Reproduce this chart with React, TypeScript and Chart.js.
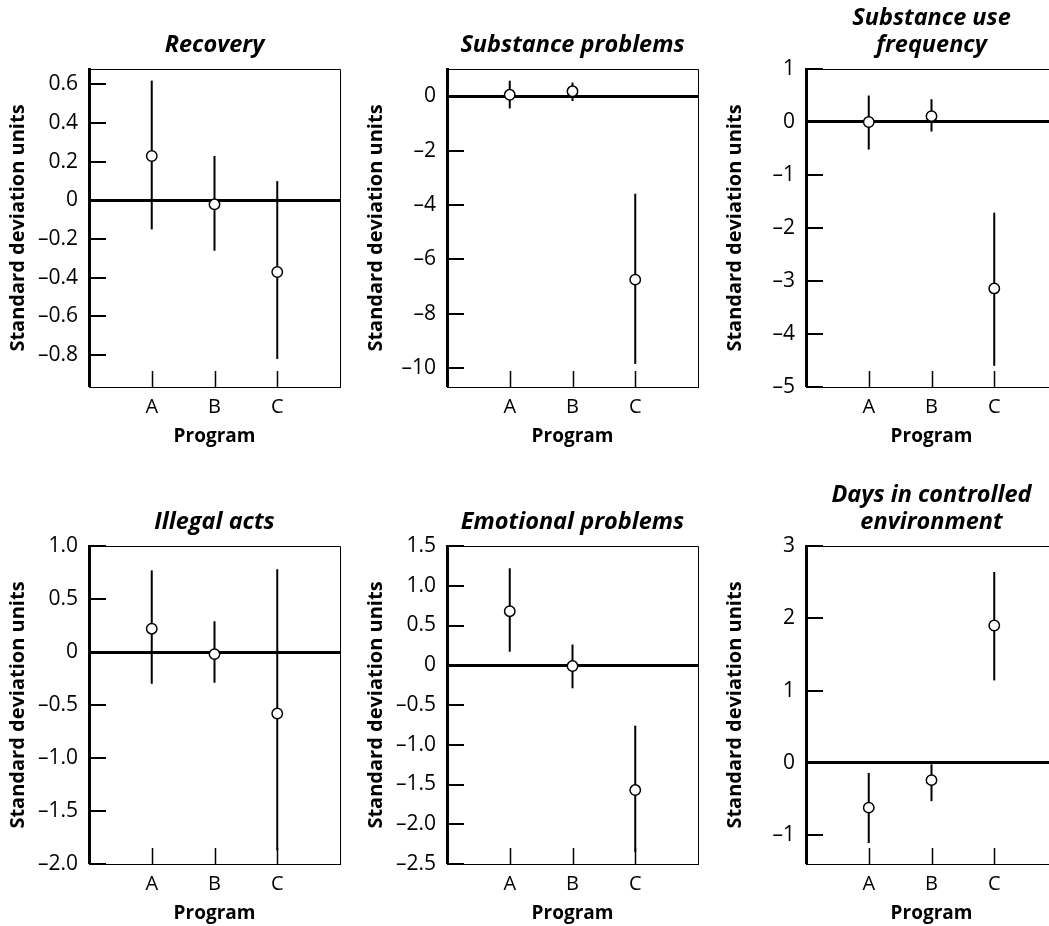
import React, { useEffect, useRef } from 'react';
import { Chart, registerables } from 'chart.js';

Chart.register(...registerables);

const categories = ['A', 'B', 'C'];

const recoveryMean = [0.23, -0.02, -0.37];
const recoveryLow = [-0.15, -0.26, -0.82];
const recoveryHigh = [0.62, 0.23, 0.1];
const recoveryTicks = [-0.8, -0.6, -0.4, -0.2, 0, 0.2, 0.4, 0.6];

const substanceMean = [0.05, 0.18, -6.75];
const substanceLow = [-0.45, -0.18, -9.85];
const substanceHigh = [0.57, 0.5, -3.59];
const substanceTicks = [-10, -8, -6, -4, -2, 0];

const frequencyMean = [0.0, 0.11, -3.14];
const frequencyLow = [-0.52, -0.18, -4.6];
const frequencyHigh = [0.5, 0.43, -1.71];
const frequencyTicks = [-5, -4, -3, -2, -1, 0, 1];

const illegalMean = [0.22, -0.02, -0.58];
const illegalLow = [-0.3, -0.29, -1.87];
const illegalHigh = [0.77, 0.29, 0.78];
const illegalTicks = [-2, -1.5, -1, -0.5, 0, 0.5, 1];

const emotionalMean = [0.68, -0.01, -1.57];
const emotionalLow = [0.17, -0.29, -2.35];
const emotionalHigh = [1.22, 0.26, -0.76];
const emotionalTicks = [-2.5, -2, -1.5, -1, -0.5, 0, 0.5, 1, 1.5];

const daysMean = [-0.62, -0.24, 1.9];
const daysLow = [-1.11, -0.53, 1.14];
const daysHigh = [-0.14, -0.02, 2.64];
const daysTicks = [-1, 0, 1, 2, 3];

const FONT = '"Open Sans", "DejaVu Sans", sans-serif';

type Panel = {
  title: string[];
  mean: number[];
  low: number[];
  high: number[];
  ticks: number[];
  decimals: number;
  min: number;
  max: number;
  left: number;
  top: number;
};

const panels: Panel[] = [
  { title: ['Recovery'], mean: recoveryMean, low: recoveryLow, high: recoveryHigh, ticks: recoveryTicks, decimals: 1, min: -0.965, max: 0.68, left: 0, top: 0 },
  { title: ['Substance problems'], mean: substanceMean, low: substanceLow, high: substanceHigh, ticks: substanceTicks, decimals: 0, min: -10.7, max: 1.0, left: 358, top: 0 },
  { title: ['Substance use', 'frequency'], mean: frequencyMean, low: frequencyLow, high: frequencyHigh, ticks: frequencyTicks, decimals: 0, min: -5, max: 1, left: 717, top: 0 },
  { title: ['Illegal acts'], mean: illegalMean, low: illegalLow, high: illegalHigh, ticks: illegalTicks, decimals: 1, min: -2, max: 1, left: 0, top: 477 },
  { title: ['Emotional problems'], mean: emotionalMean, low: emotionalLow, high: emotionalHigh, ticks: emotionalTicks, decimals: 1, min: -2.5, max: 1.5, left: 358, top: 477 },
  { title: ['Days in controlled', 'environment'], mean: daysMean, low: daysLow, high: daysHigh, ticks: daysTicks, decimals: 0, min: -1.4, max: 3, left: 717, top: 477 },
];

const CANVAS_W = 358;
const CANVAS_H = 460;
const AREA_TOP = 69;
const AREA_LEFT = 89;
const AREA_RIGHT_PAD = 18;
const X_AXIS_H = 73;
const TITLE_SIZE = 23.5;
const TITLE_LH = 27;
const TITLE_PAD_BOTTOM = 10.5;

function fmt(v: number, dec: number): string {
  if (v === 0) return '0';
  const s = Math.abs(v).toFixed(dec);
  return (v < 0 ? '\u2013' : '') + s;
}

const frameAndTicks = {
  id: 'frameAndTicks',
  afterDraw(chart: any) {
    const { ctx, chartArea: a, scales } = chart;
    ctx.save();
    ctx.strokeStyle = '#000';
    ctx.lineWidth = 1;
    ctx.beginPath();
    ctx.moveTo(a.left, a.top + 0.5);
    ctx.lineTo(a.right + 0.5, a.top + 0.5);
    ctx.lineTo(a.right + 0.5, a.bottom);
    ctx.stroke();
    ctx.lineWidth = 2;
    ctx.strokeStyle = '#000';
    const yScale = chart.scales.y;
    const yVals: number[] = yScale.ticks.map((t: any) => Number(t.value));
    for (const v of yVals) {
      if (v === 0) continue;
      const y = Math.round(yScale.getPixelForValue(v));
      ctx.beginPath();
      ctx.moveTo(a.left + 1, y);
      ctx.lineTo(a.left + 17, y);
      ctx.stroke();
    }
    ctx.lineWidth = 1.5;
    const xScale = scales.x;
    for (const t of xScale.ticks) {
      const x = Math.round(xScale.getPixelForValue(t.value)) + 0.5;
      ctx.beginPath();
      ctx.moveTo(x, a.bottom);
      ctx.lineTo(x, a.bottom - 16);
      ctx.stroke();
    }
    ctx.restore();
  },
};

function PanelChart({ p }: { p: Panel }) {
  const ref = useRef<HTMLCanvasElement | null>(null);
  useEffect(() => {
    if (!ref.current) return;
    const n = p.title.length;
    const errorSets = categories.map((c, i) => ({
      type: 'line' as const,
      label: 'err ' + c,
      data: [
        { x: i + 1, y: p.low[i] },
        { x: i + 1, y: p.high[i] },
      ],
      showLine: true,
      borderColor: '#000',
      borderWidth: 2,
      pointRadius: 0,
      fill: false,
      order: 2,
    }));
    const chart = new Chart(ref.current, {
      type: 'scatter',
      data: {
        datasets: [
          {
            label: 'mean',
            data: p.mean.map((m, i) => ({ x: i + 1, y: m })),
            pointRadius: 5.2,
            pointBackgroundColor: '#fff',
            pointBorderColor: '#000',
            pointBorderWidth: 1.5,
            showLine: false,
            order: 1,
          } as any,
          ...errorSets,
        ],
      },
      options: {
        responsive: false,
        animation: false,
        devicePixelRatio: 1,
        layout: { padding: { left: 0, right: AREA_RIGHT_PAD, top: 0, bottom: 0 } },
        plugins: {
          legend: { display: false },
          tooltip: { enabled: false },
          title: {
            display: true,
            fullSize: false,
            text: p.title,
            color: '#000',
            font: { family: FONT, size: TITLE_SIZE, weight: 'bold', style: 'italic', lineHeight: TITLE_LH / TITLE_SIZE },
            padding: { top: AREA_TOP - TITLE_PAD_BOTTOM - TITLE_LH * n, bottom: TITLE_PAD_BOTTOM },
          },
        },
        scales: {
          x: {
            type: 'linear',
            position: 'bottom',
            min: 0,
            max: 4,
            afterBuildTicks: (s: any) => {
              s.ticks = categories.map((_, i) => ({ value: i + 1 }));
            },
            afterFit: (s: any) => {
              s.height = X_AXIS_H;
            },
            ticks: {
              autoSkip: false,
              maxRotation: 0,
              padding: 8.5,
              color: '#000',
              font: { family: FONT, size: 20 },
              callback: (v: any) => categories[Number(v) - 1] ?? '',
            },
            grid: { display: false, drawTicks: false },
            border: { display: true, color: '#000', width: 1 },
            title: {
              display: true,
              text: 'Program',
              color: '#000',
              font: { family: FONT, size: 19, weight: 'bold' },
              padding: { top: 0, bottom: 12 },
            },
          },
          y: {
            type: 'linear',
            min: p.min,
            max: p.max,
            afterBuildTicks: (s: any) => {
              s.ticks = p.ticks.map((v) => ({ value: v }));
            },
            afterFit: (s: any) => {
              s.width = AREA_LEFT;
            },
            ticks: {
              autoSkip: false,
              padding: 11,
              color: '#000',
              font: { family: FONT, size: 21 },
              callback: (v: any) => fmt(Number(v), p.decimals),
            },
            grid: {
              drawTicks: false,
              color: (ctx: any) => (ctx.tick && ctx.tick.value === 0 ? '#000' : 'rgba(0,0,0,0)'),
              lineWidth: (ctx: any) => (ctx.tick && ctx.tick.value === 0 ? 3 : 0),
            },
            border: { display: true, color: '#000', width: 3 },
            title: {
              display: true,
              text: 'Standard deviation units',
              color: '#000',
              font: { family: FONT, size: 20, weight: 'bold' },
              padding: { top: 6.5, bottom: 0 },
            },
          },
        },
      } as any,
      plugins: [frameAndTicks],
    });
    return () => chart.destroy();
  }, [p]);
  return (
    <canvas
      ref={ref}
      width={CANVAS_W}
      height={CANVAS_H}
      style={{ position: 'absolute', left: p.left, top: p.top, width: CANVAS_W, height: CANVAS_H }}
    />
  );
}

export default function App() {
  return (
    <div
      style={{
        position: 'fixed',
        left: 0,
        top: 0,
        width: 1049,
        height: 926,
        overflow: 'hidden',
        background: '#fff',
      }}
    >
      {panels.map((p, i) => (
        <PanelChart key={i} p={p} />
      ))}
    </div>
  );
}
